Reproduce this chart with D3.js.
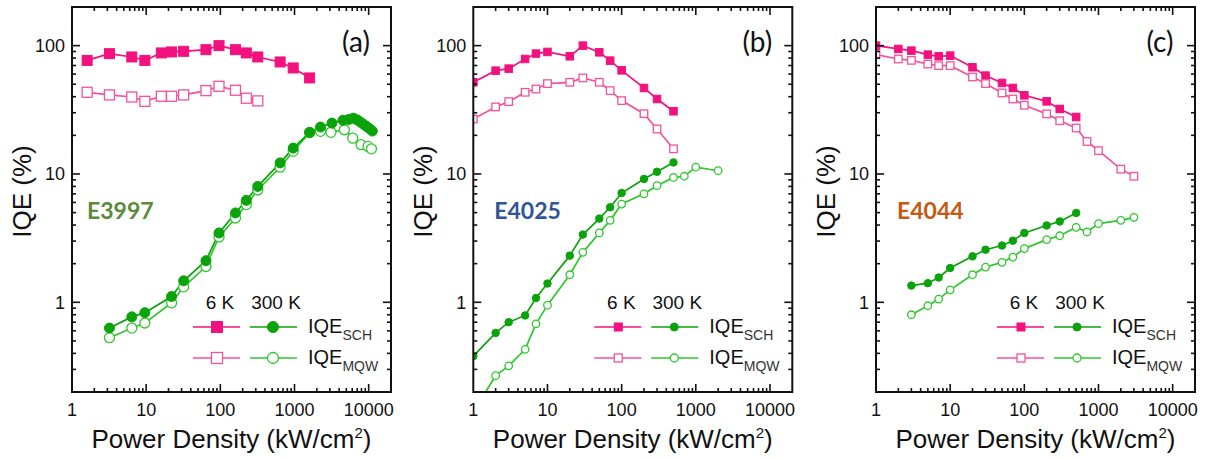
<!DOCTYPE html>
<html><head><meta charset="utf-8">
<script src="https://cdn.jsdelivr.net/npm/d3@7"></script>
<style>
html,body{margin:0;padding:0;background:#fff;}
svg{display:block;}
</style></head>
<body>
<svg id="chart" width="1210" height="458"></svg>
<script>
// ---------- DATA ----------
const panelLabels = ["(a)", "(b)", "(c)"];
const sampleNames = ["E3997", "E4025", "E4044"];
const sampleColors = ["#5b8a3c", "#2f5597", "#c55a11"];
const xTickValues = [1, 10, 100, 1000, 10000];
const yTickValues = [1, 10, 100];
const legendHeaders = ["6 K", "300 K"];
const legendNames = [["IQE", "SCH"], ["IQE", "MQW"]];

// Panel (a) E3997
const a_sch6K_x = [1.6, 3.2, 6.4, 9.6, 16, 22, 32, 64, 96, 160, 224, 320, 640, 960, 1600];
const a_sch6K_y = [76.7, 86.6, 81.6, 76.7, 87.7, 89.3, 90.3, 93, 100, 93, 87.7, 81.6, 74.6, 67, 56];
const a_mqw6K_x = [1.6, 3.2, 6.4, 9.6, 16, 22, 32, 64, 96, 160, 224, 320];
const a_mqw6K_y = [43.3, 41.3, 39.8, 36.8, 40.3, 40.3, 41.3, 44.6, 48.2, 44.9, 38.9, 37.1];
const a_sch300K_x = [3.2, 6.4, 9.6, 22, 32, 64, 96, 160, 224, 320, 640, 960, 1600, 2240, 3200, 4500, 5400, 6200, 7000, 7800, 8600, 9400, 10200, 11200];
const a_sch300K_y = [0.63, 0.77, 0.83, 1.11, 1.47, 2.11, 3.47, 4.97, 6.23, 8.0, 12.2, 15.9, 21.1, 23.2, 24.9, 26.2, 26.6, 27.2, 26.4, 25.3, 24.3, 23.4, 22.6, 21.6];
const a_mqw300K_x = [3.2, 6.4, 9.6, 22, 32, 64, 96, 160, 224, 320, 640, 960, 1600, 2240, 3100, 4700, 6100, 7900, 9800, 10900];
const a_mqw300K_y = [0.53, 0.63, 0.69, 0.99, 1.32, 1.9, 3.23, 4.54, 5.77, 7.5, 11.3, 15, 21, 21.5, 21.1, 22.1, 19, 16.9, 16.4, 15.7];

// Panel (b) E4025
const b_sch6K_x = [1, 2, 3, 5, 7, 10, 20, 30, 50, 70, 100, 200, 300, 500];
const b_sch6K_y = [51.8, 63.8, 66.2, 78.7, 86.7, 89.3, 82.6, 100, 88.7, 76.4, 64.2, 46.8, 38.4, 30.8];
const b_mqw6K_x = [1, 2, 3, 5, 7, 10, 20, 30, 50, 70, 100, 200, 300, 500];
const b_mqw6K_y = [26.8, 33.3, 36.6, 43.3, 45.9, 50.6, 51.8, 56, 51.8, 44.6, 37.3, 29.5, 22.4, 15.7];
const b_sch300K_x = [1, 2, 3, 5, 7, 10, 20, 30, 50, 70, 100, 200, 300, 500];
const b_sch300K_y = [0.38, 0.577, 0.70, 0.79, 1.08, 1.40, 2.31, 3.37, 4.49, 5.5, 7.1, 9.15, 10.4, 12.3];
const b_mqw300K_x = [1, 2, 3, 5, 7, 10, 20, 30, 50, 70, 100, 200, 300, 500, 700, 1000, 2000];
const b_mqw300K_y = [0.14, 0.268, 0.32, 0.43, 0.68, 0.95, 1.64, 2.45, 3.47, 4.35, 5.83, 7.0, 8.1, 9.4, 9.6, 11.3, 10.6];

// Panel (c) E4044
const c_sch6K_x = [1, 2, 3, 5, 7, 10, 20, 30, 50, 70, 100, 200, 300, 500];
const c_sch6K_y = [100, 94.2, 91.4, 85.1, 82.6, 83.6, 67.8, 58.4, 51.2, 46.8, 41, 36.8, 32.1, 27.8];
const c_mqw6K_x = [1, 2, 3, 5, 7, 10, 20, 30, 50, 70, 100, 200, 300, 500, 700, 1000, 2000, 3000];
const c_mqw6K_y = [85, 78.7, 76.8, 71.9, 69.8, 69.8, 57, 50.6, 42.8, 38.4, 34.3, 29.4, 26, 22.8, 17.9, 15.2, 10.9, 9.6];
const c_sch300K_x = [3, 5, 7, 10, 20, 30, 50, 70, 100, 200, 300, 500];
const c_sch300K_y = [1.35, 1.41, 1.56, 1.85, 2.28, 2.57, 2.77, 3.02, 3.47, 3.97, 4.27, 4.97];
const c_mqw300K_x = [3, 5, 7, 10, 20, 30, 50, 70, 100, 200, 300, 500, 700, 1000, 2000, 3000];
const c_mqw300K_y = [0.8, 0.94, 1.06, 1.25, 1.64, 1.88, 2.05, 2.25, 2.62, 3.08, 3.30, 3.84, 3.53, 4.10, 4.35, 4.59];

// ---------- STYLE / LAYOUT ----------
const PINK = "#f2117f", PINK_OPEN = "#f5519c";
const GREEN = "#0aa30a", GREEN_OPEN = "#2ec82e";
const AXFONT = "'Liberation Sans', Arial, sans-serif";
const LBLFONT = "Lato, 'Open Sans', sans-serif";

const panelLefts = [72, 473.3, 876];
const plotTop = 7, plotW = 319, plotH = 385;
const markerSizes = [10, 7.5, 7.5];

const panels = [
  {series: [
    {x: a_sch6K_x, y: a_sch6K_y, shape: "square", filled: true, color: PINK},
    {x: a_mqw6K_x, y: a_mqw6K_y, shape: "square", filled: false, color: PINK_OPEN},
    {x: a_mqw300K_x, y: a_mqw300K_y, shape: "circle", filled: false, color: GREEN_OPEN},
    {x: a_sch300K_x, y: a_sch300K_y, shape: "circle", filled: true, color: GREEN}]},
  {series: [
    {x: b_sch6K_x, y: b_sch6K_y, shape: "square", filled: true, color: PINK},
    {x: b_mqw6K_x, y: b_mqw6K_y, shape: "square", filled: false, color: PINK_OPEN},
    {x: b_sch300K_x, y: b_sch300K_y, shape: "circle", filled: true, color: GREEN},
    {x: b_mqw300K_x, y: b_mqw300K_y, shape: "circle", filled: false, color: GREEN_OPEN}]},
  {series: [
    {x: c_sch6K_x, y: c_sch6K_y, shape: "square", filled: true, color: PINK},
    {x: c_mqw6K_x, y: c_mqw6K_y, shape: "square", filled: false, color: PINK_OPEN},
    {x: c_sch300K_x, y: c_sch300K_y, shape: "circle", filled: true, color: GREEN},
    {x: c_mqw300K_x, y: c_mqw300K_y, shape: "circle", filled: false, color: GREEN_OPEN}]}
];

const svg = d3.select("#chart");

function logTicks(lo, hi) {
  const out = [];
  for (let e = Math.floor(Math.log10(lo)); e <= Math.ceil(Math.log10(hi)); e++) {
    for (let k = 1; k <= 9; k++) {
      const v = k * Math.pow(10, e);
      if (v > lo * 1.0001 && v < hi * 0.9999) out.push({v, major: k === 1});
    }
  }
  return out;
}

function drawMarker(g, shape, filled, color, cx, cy, size) {
  if (shape === "square") {
    g.append("rect").attr("x", cx - size / 2).attr("y", cy - size / 2)
      .attr("width", size).attr("height", size)
      .attr("fill", filled ? color : "#fff").attr("stroke", color)
      .attr("stroke-width", filled ? 1 : 1.3);
  } else {
    g.append("circle").attr("cx", cx).attr("cy", cy).attr("r", size / 2)
      .attr("fill", filled ? color : "#fff").attr("stroke", color)
      .attr("stroke-width", filled ? 1 : 1.3);
  }
}

panels.forEach((p, i) => {
  const left = panelLefts[i];
  const x = d3.scaleLog().domain([1, 20000]).range([0, plotW]);
  const y = d3.scaleLog().domain([0.2, 200]).range([plotH, 0]);
  const g = svg.append("g").attr("transform", `translate(${left},${plotTop})`);
  const ms = markerSizes[i];

  g.append("clipPath").attr("id", "clip" + i)
    .append("rect").attr("x", 0).attr("y", 0).attr("width", plotW).attr("height", plotH);
  const dg = g.append("g").attr("clip-path", `url(#clip${i})`);

  const line = d3.line().x(d => x(d[0])).y(d => y(d[1]));
  p.series.forEach(s => {
    const pts = s.x.map((xv, k) => [xv, s.y[k]]);
    dg.append("path").datum(pts).attr("d", line).attr("fill", "none")
      .attr("stroke", s.color).attr("stroke-width", 1.7);
  });
  p.series.forEach(s => {
    s.x.forEach((xv, k) => drawMarker(dg, s.shape, s.filled, s.color, x(xv), y(s.y[k]), ms));
  });

  // frame
  g.append("rect").attr("x", 0).attr("y", 0).attr("width", plotW).attr("height", plotH)
    .attr("fill", "none").attr("stroke", "#111").attr("stroke-width", 2);

  // ticks (inward, all four sides)
  const tg = g.append("g").attr("stroke", "#111").attr("stroke-width", 1.6);
  logTicks(1, 20000).forEach(t => {
    const L = t.major ? 8 : 4, px = x(t.v);
    tg.append("line").attr("x1", px).attr("x2", px).attr("y1", plotH).attr("y2", plotH - L);
    tg.append("line").attr("x1", px).attr("x2", px).attr("y1", 0).attr("y2", L);
  });
  logTicks(0.2, 200).forEach(t => {
    const L = t.major ? 8 : 4, py = y(t.v);
    tg.append("line").attr("x1", 0).attr("x2", L).attr("y1", py).attr("y2", py);
    tg.append("line").attr("x1", plotW).attr("x2", plotW - L).attr("y1", py).attr("y2", py);
  });

  // tick labels
  xTickValues.forEach(v => {
    g.append("text").attr("x", x(v)).attr("y", plotH + 24).attr("text-anchor", "middle")
      .attr("font-family", AXFONT).attr("font-size", 18).attr("fill", "#111").text(v);
  });
  yTickValues.forEach(v => {
    g.append("text").attr("x", -7).attr("y", y(v) + 6.5).attr("text-anchor", "end")
      .attr("font-family", AXFONT).attr("font-size", 18).attr("fill", "#111").text(v);
  });

  // axis titles
  const xt = g.append("text").attr("x", plotW / 2).attr("y", 441).attr("text-anchor", "middle")
    .attr("font-family", AXFONT).attr("font-size", 26).attr("fill", "#111");
  xt.append("tspan").text("Power Density (kW/cm");
  xt.append("tspan").attr("dy", -10).attr("font-size", 15).text("2");
  xt.append("tspan").attr("dy", 10).text(")");
  g.append("text").attr("transform", `translate(-41,${plotH / 2 - 8}) rotate(-90)`)
    .attr("text-anchor", "middle").attr("font-family", AXFONT).attr("font-size", 26)
    .attr("fill", "#111").text("IQE (%)");

  // panel letter and sample name
  g.append("text").attr("x", 284).attr("y", 45).attr("text-anchor", "middle")
    .attr("font-family", LBLFONT).attr("font-size", 28).attr("fill", "#111").text(panelLabels[i]);
  g.append("text").attr("x", i === 0 ? 15 : 21).attr("y", 212)
    .attr("font-family", LBLFONT).attr("font-weight", "bold").attr("font-size", 23)
    .attr("fill", sampleColors[i]).text(sampleNames[i]);

  // legend
  const lg = g.append("g");
  lg.append("text").attr("x", 148).attr("y", 302).attr("text-anchor", "middle")
    .attr("font-family", AXFONT).attr("font-size", 19).attr("fill", "#111").text(legendHeaders[0]);
  lg.append("text").attr("x", 204).attr("y", 302).attr("text-anchor", "middle")
    .attr("font-family", AXFONT).attr("font-size", 19).attr("fill", "#111").text(legendHeaders[1]);
  const rowsY = [320, 351];
  const legMs = i === 0 ? 11 : 8;
  rowsY.forEach((ry, r) => {
    const filled = r === 0;
    const pc = filled ? PINK : PINK_OPEN, gc = filled ? GREEN : GREEN_OPEN;
    lg.append("line").attr("x1", 121).attr("x2", 168).attr("y1", ry).attr("y2", ry)
      .attr("stroke", pc).attr("stroke-width", 1.6);
    drawMarker(lg, "square", filled, pc, 145, ry, legMs);
    lg.append("line").attr("x1", 178).attr("x2", 225).attr("y1", ry).attr("y2", ry)
      .attr("stroke", gc).attr("stroke-width", 1.6);
    drawMarker(lg, "circle", filled, gc, 201, ry, legMs);
    const t = lg.append("text").attr("x", 236).attr("y", ry + 6)
      .attr("font-family", AXFONT).attr("font-size", 20).attr("fill", "#111");
    t.append("tspan").text(legendNames[r][0]);
    t.append("tspan").attr("dy", 7).attr("font-size", 14).attr("fill", "#333").text(legendNames[r][1]);
  });
});
</script>
</body></html>
